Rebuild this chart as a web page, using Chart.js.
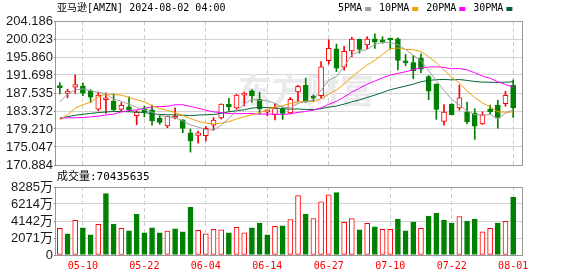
<!DOCTYPE html>
<html>
<head>
<meta charset="utf-8">
<script src="https://cdn.jsdelivr.net/npm/chart.js@4.4.1/dist/chart.umd.min.js"></script>
<style>
  body { margin: 0; background: #fff; }
  #wrap { position: relative; width: 578px; height: 276px; }
  canvas { position: absolute; left: 0; }
  #kline { top: 0; }
  #vol { top: 168px; }
</style>
</head>
<body>
<div id="wrap">
  <canvas id="kline" width="578" height="176"></canvas>
  <canvas id="vol" width="578" height="108"></canvas>
</div>
<script>
const stockName = '亚马逊[AMZN]';
const quoteTime = '2024-08-02 04:00';
const volTitle = 70435635;

const dates = ['05-07','05-08','05-09','05-10','05-13','05-14','05-15','05-16','05-17','05-20',
  '05-21','05-22','05-23','05-24','05-28','05-29','05-30','05-31','06-03','06-04',
  '06-05','06-06','06-07','06-10','06-11','06-12','06-13','06-14','06-17','06-18',
  '06-20','06-21','06-24','06-25','06-26','06-27','06-28','07-01','07-02','07-03',
  '07-05','07-08','07-09','07-10','07-11','07-12','07-15','07-16','07-17','07-18',
  '07-19','07-22','07-23','07-24','07-25','07-26','07-29','07-30','07-31','08-01'];
const tickDates = ['05-10','05-22','06-04','06-14','06-27','07-10','07-22','08-01'];

const opens = [188.92,187.44,188.88,189.16,188.00,183.82,185.97,185.60,183.76,184.34,
  182.30,183.88,183.66,181.65,179.93,181.70,181.31,178.30,177.70,177.64,
  180.10,181.75,184.90,184.07,187.06,188.02,186.09,183.08,182.52,183.74,
  182.91,187.80,189.33,186.54,186.92,195.01,197.73,193.49,197.28,199.94,
  198.65,200.04,199.40,200.00,200.09,194.80,194.56,195.59,191.35,189.59,
  180.94,185.00,184.10,183.20,182.91,180.39,183.84,184.72,185.05,189.29];
const highs = [189.94,188.43,191.70,189.89,188.31,187.72,187.60,187.31,185.30,186.67,
  183.46,184.50,184.76,182.44,182.24,184.08,181.34,179.21,178.70,179.82,
  181.86,185.00,186.29,187.23,187.77,188.35,187.67,183.72,185.00,184.29,
  186.51,189.28,191.00,187.10,194.80,199.84,198.85,198.30,200.43,200.03,
  200.55,201.20,200.57,200.11,200.27,196.47,196.19,196.62,191.58,189.68,
  184.84,185.06,189.39,185.44,183.89,183.19,184.75,185.86,187.94,190.60];
const lows = [187.31,186.39,187.44,186.93,185.36,183.45,182.80,183.46,183.35,183.28,
  180.17,181.97,180.08,180.30,179.49,181.55,178.36,173.87,175.92,176.44,
  178.90,181.49,183.36,183.79,184.54,185.43,182.67,182.23,181.30,181.43,
  182.72,185.61,185.33,185.60,186.26,194.20,192.50,192.82,195.93,196.76,
  197.74,197.83,199.05,197.69,192.86,193.83,190.83,192.24,185.99,181.45,
  180.11,182.48,183.56,180.41,176.80,180.24,182.70,179.38,184.45,181.87];
const closes = [188.76,188.00,189.50,187.48,186.57,187.07,185.99,183.63,184.70,183.54,
  183.15,183.13,181.05,180.75,182.15,182.02,179.32,176.44,178.34,179.34,
  181.28,185.00,184.30,187.06,187.23,186.89,183.83,183.66,184.06,182.81,
  186.10,189.08,185.57,186.34,193.61,197.85,193.25,197.20,200.00,197.59,
  200.00,199.29,199.34,199.79,195.05,194.49,192.72,193.02,187.93,183.75,
  183.13,182.55,186.41,180.83,179.85,182.50,183.20,181.71,186.98,184.07];
const prevClose = 188.70;

const ma5 = [185.48,187.28,188.23,188.49,188.06,187.72,187.32,186.15,185.59,184.99,
  184.20,183.63,183.11,182.32,182.05,181.82,181.06,180.14,179.65,179.09,
  178.94,180.08,181.65,183.40,184.97,186.10,185.86,185.73,185.13,184.25,
  184.09,185.14,185.52,185.98,188.14,190.49,191.32,193.65,196.38,197.18,
  197.61,198.82,199.24,199.20,198.69,197.59,196.28,195.01,192.64,190.38,
  188.11,186.08,184.75,183.33,182.55,182.43,182.56,181.62,182.85,183.69];
const ma10 = [181.32,182.47,184.05,184.84,185.40,186.60,187.30,187.19,187.04,186.52,
  185.96,185.48,184.63,183.96,183.52,183.01,182.35,181.63,180.99,180.57,
  180.38,180.57,180.90,181.53,182.03,182.52,182.97,183.69,184.27,184.61,
  185.10,185.50,185.63,185.56,186.20,187.29,188.23,189.59,191.18,192.66,
  194.05,195.07,196.45,197.79,197.94,197.60,197.55,197.13,195.92,194.54,
  192.85,191.18,189.88,187.99,186.47,185.27,184.32,183.19,183.09,183.12];
const ma20 = [181.68,181.79,181.81,181.86,182.01,182.19,182.43,182.65,183.15,183.46,
  183.64,183.98,184.34,184.40,184.46,184.81,184.83,184.41,184.02,183.55,
  183.17,183.03,182.77,182.75,182.78,182.77,182.66,182.66,182.63,182.59,
  182.74,183.04,183.27,183.55,184.12,184.91,185.60,186.64,187.73,188.64,
  189.58,190.29,191.04,191.68,192.07,192.45,192.89,193.36,193.55,193.60,
  193.45,193.13,193.17,192.89,192.21,191.44,190.94,190.16,189.51,188.83];
const ma30 = [181.73,182.06,182.38,182.62,182.81,183.02,183.14,183.26,183.24,183.19,
  183.10,183.02,182.75,182.56,182.51,182.46,182.40,182.31,182.43,182.50,
  182.55,182.84,183.19,183.44,183.65,184.04,184.21,184.17,184.10,183.90,
  183.81,183.85,183.72,183.68,183.92,184.27,184.52,184.97,185.48,185.95,
  186.51,187.05,187.66,188.29,188.72,189.14,189.58,190.14,190.46,190.60,
  190.67,190.58,190.65,190.45,190.20,190.05,190.03,189.97,190.06,190.11];

// volume in 万 (10k shares)
const volumes = [3260,2590,4210,3300,2470,3740,7480,3780,3260,2950,
  4970,2700,3300,2700,2900,3190,2820,5810,3020,2590,
  3140,3060,2700,3380,2700,3300,3900,2470,3500,3540,
  4330,7240,4970,4450,6480,7320,7600,3980,4450,3060,
  3860,3420,3140,3140,4380,2950,4020,3260,4730,5090,
  4250,3900,4690,4140,4380,2820,3260,3900,4100,7043.56];

const priceTicks = [170.884, 175.047, 179.210, 183.372, 187.535, 191.698, 195.860, 200.023, 204.186];
const volTicks = [0, 2071, 4142, 6214, 8285];

const maNames = ['5PMA', '10PMA', '20PMA', '30PMA'];
const maColors = ['#a0a0a0', '#f0a000', '#ff00ff', '#006633'];

const RED = '#ff0000';
const GREEN = '#008000';
const X_MIN = -0.5, X_MAX = 60.15;
const LEFT_W = 56, RIGHT_PAD = 56;

const idx = dates.map((d, i) => i);
const up = closes.map((c, i) => c >= opens[i]);
const volUp = closes.map((c, i) => c >= (i === 0 ? prevClose : closes[i - 1]));
const xTickIdx = tickDates.map(d => dates.indexOf(d));

const monoFont = "'DejaVu Sans Mono', 'Noto Sans CJK SC', monospace";
const axisFont = { family: "'Liberation Sans', 'Noto Sans CJK SC', sans-serif", size: 13 };

function xAxis(showLabels) {
  return {
    type: 'linear', min: X_MIN, max: X_MAX, offset: false,
    afterBuildTicks: s => { s.ticks = xTickIdx.map(v => ({ value: v })); },
    afterFit: s => { s.height = showLabels ? 21 : 0; },
    grid: { color: '#cccccc', drawTicks: false, offset: false },
    border: { display: false, dash: [4, 3] },
    ticks: showLabels ? {
      autoSkip: false, maxRotation: 0, padding: 5, color: RED,
      font: { family: monoFont, size: 10 },
      callback: v => dates[v]
    } : { display: false }
  };
}

function yAxis(ticksArr, fmt) {
  return {
    min: ticksArr[0], max: ticksArr[ticksArr.length - 1],
    afterBuildTicks: s => { s.ticks = ticksArr.map(v => ({ value: v })); },
    afterFit: s => { s.width = LEFT_W; },
    grid: { color: '#d2d2d2', tickLength: 2, tickColor: '#777' },
    border: { display: false },
    ticks: { autoSkip: false, padding: 1, color: '#1a1a1a', font: axisFont, callback: fmt }
  };
}

const frame = {
  id: 'frame',
  afterDraw(chart) {
    const { ctx, chartArea: a } = chart;
    ctx.save();
    ctx.strokeStyle = '#999';
    ctx.lineWidth = 1;
    ctx.strokeRect(a.left - 0.5, a.top + 0.5, a.right - a.left + 1, a.bottom - a.top);
    ctx.restore();
  }
};

const header = {
  id: 'header',
  beforeDatasetsDraw(chart) {
    const { ctx } = chart;
    ctx.save();
    ctx.fillStyle = '#e9e9ee';
    ctx.font = "bold 34px 'Noto Sans CJK SC'";
    ctx.textBaseline = 'middle';
    ctx.fillText('东方财富', 238, 90);
    ctx.restore();
  },
  afterDraw(chart) {
    const { ctx } = chart;
    ctx.save();
    ctx.fillStyle = '#000';
    ctx.font = '10px ' + monoFont;
    ctx.textBaseline = 'middle';
    ctx.fillText(stockName + ' ' + quoteTime, 57, 8.5);
    let x = 338;
    maNames.forEach((name, k) => {
      ctx.fillStyle = '#000';
      ctx.fillText(name, x, 8.5);
      x += ctx.measureText(name).width + 3;
      ctx.fillStyle = maColors[k];
      ctx.fillRect(x, 7, 6, 4);
      x += 14;
    });
    ctx.restore();
  }
};

const volHeader = {
  id: 'volHeader',
  afterDraw(chart) {
    const { ctx } = chart;
    ctx.save();
    ctx.fillStyle = '#000';
    ctx.font = '11px ' + monoFont;
    ctx.textBaseline = 'middle';
    ctx.fillText('成交量:' + volTitle, 57, 9.5);
    ctx.restore();
  }
};

const maSets = [ma5, ma10, ma20, ma30].map((arr, k) => ({
  type: 'line',
  data: idx.map(i => ({ x: i, y: arr[i] })),
  borderColor: maColors[k],
  borderWidth: 1,
  pointRadius: 0,
  fill: false,
  order: 0
}));

new Chart(document.getElementById('kline'), {
  type: 'bar',
  data: {
    datasets: [
      ...maSets,
      {
        data: idx.map(i => ({ x: i, y: [opens[i], closes[i]] })),
        backgroundColor: up.map(u => u ? '#ffffff' : GREEN),
        borderColor: up.map(u => u ? RED : GREEN),
        borderWidth: 1,
        borderSkipped: false,
        barThickness: 5,
        minBarLength: 2,
        grouped: false,
        order: 1
      },
      {
        data: idx.map(i => ({ x: i, y: [lows[i], highs[i]] })),
        backgroundColor: up.map(u => u ? RED : GREEN),
        borderWidth: 0,
        barThickness: 1,
        grouped: false,
        order: 2
      }
    ]
  },
  options: {
    responsive: false,
    animation: false,
    devicePixelRatio: 1,
    layout: { padding: { top: 21, right: RIGHT_PAD, bottom: 11, left: 0 } },
    plugins: { legend: { display: false }, tooltip: { enabled: false } },
    scales: {
      x: xAxis(false),
      y: yAxis(priceTicks, v => v.toFixed(3))
    }
  },
  plugins: [header, frame]
});

new Chart(document.getElementById('vol'), {
  type: 'bar',
  data: {
    datasets: [{
      data: idx.map(i => ({ x: i, y: volumes[i] })),
      backgroundColor: volUp.map(u => u ? '#ffffff' : GREEN),
      borderColor: volUp.map(u => u ? RED : GREEN),
      borderWidth: 1,
      borderSkipped: false,
      barThickness: 5,
      grouped: false
    }]
  },
  options: {
    responsive: false,
    animation: false,
    devicePixelRatio: 1,
    layout: { padding: { top: 19, right: RIGHT_PAD, bottom: 0, left: 0 } },
    plugins: { legend: { display: false }, tooltip: { enabled: false } },
    scales: {
      x: xAxis(true),
      y: yAxis(volTicks, v => v === 0 ? '0' : v + '万')
    }
  },
  plugins: [volHeader, frame]
});
</script>
</body>
</html>
